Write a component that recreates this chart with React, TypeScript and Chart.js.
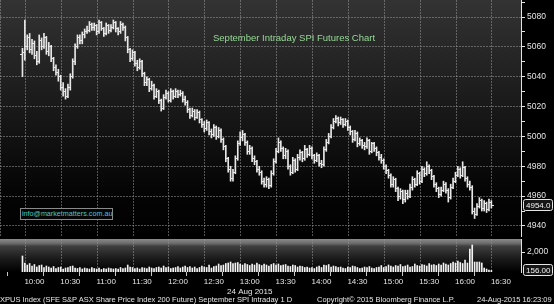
import React, { useEffect, useRef } from 'react';
import { Chart, registerables } from 'chart.js';

Chart.register(...registerables);

// ---- Data (2-minute bars, SPI Sept futures, 24 Aug 2015) ----
const FIRST_BAR_MINUTE = 590; // 09:50
const BAR_MINUTES = 2;

const opens = [
  5055, 5056, 5060, 5066, 5058, 5062, 5054, 5050, 5064, 5060,
  5066, 5057, 5060, 5052, 5046, 5043, 5040, 5033, 5030, 5027,
  5033, 5040, 5050, 5060, 5066, 5064, 5068, 5070, 5071, 5075,
  5073, 5074, 5070, 5076, 5072, 5069, 5074, 5071, 5073, 5076,
  5072, 5070, 5075, 5073, 5066, 5058, 5052, 5056, 5049, 5046,
  5050, 5042, 5036, 5038, 5032, 5034, 5027, 5030, 5024, 5019,
  5026, 5029, 5024, 5030, 5027, 5030, 5028, 5029, 5025, 5023,
  5018, 5014, 5017, 5013, 5016, 5011, 5008, 5005, 5009, 5003,
  5001, 5006, 5000, 5004, 4998, 4993, 4985, 4978, 4972, 4976,
  4985, 4995, 4999, 5001, 4996, 4990, 4992, 4985, 4983, 4978,
  4976, 4970, 4968, 4971, 4967, 4975, 4983, 4990, 4996, 4992,
  4987, 4990, 4980, 4976, 4984, 4978, 4986, 4989, 4985, 4991,
  4988, 4992, 4987, 4984, 4987, 4982, 4981, 4991, 4996, 5000,
  5006, 5010, 5012, 5009, 5011, 5008, 5010, 5006, 5003, 4998,
  5002, 4995, 4997, 4994, 4993, 4997, 4990, 4995, 4992, 4989,
  4986, 4984, 4980, 4977, 4974, 4968, 4971, 4965, 4960, 4963,
  4958, 4962, 4960, 4966, 4971, 4968, 4975, 4970, 4978, 4975,
  4980, 4977, 4973, 4968, 4965, 4961, 4964, 4968, 4964, 4959,
  4966, 4970, 4974, 4978, 4974, 4979, 4972, 4968, 4966, 4950,
  4948, 4953, 4957, 4952, 4955, 4951, 4956,
];

const highs = [
  5059, 5078, 5068, 5069, 5065, 5064, 5057, 5068, 5066, 5069,
  5067, 5063, 5061, 5053, 5048, 5045, 5041, 5036, 5032, 5035,
  5042, 5052, 5062, 5068, 5068, 5070, 5072, 5074, 5077, 5076,
  5076, 5075, 5078, 5077, 5073, 5076, 5075, 5075, 5078, 5077,
  5073, 5077, 5076, 5074, 5067, 5059, 5058, 5057, 5051, 5052,
  5051, 5043, 5040, 5039, 5037, 5035, 5032, 5031, 5025, 5028,
  5031, 5030, 5032, 5031, 5032, 5031, 5031, 5030, 5027, 5024,
  5019, 5019, 5018, 5018, 5017, 5012, 5010, 5011, 5010, 5005,
  5008, 5007, 5006, 5005, 4999, 4994, 4986, 4980, 4978, 4987,
  4997, 5003, 5004, 5002, 4997, 4994, 4993, 4987, 4984, 4980,
  4977, 4972, 4973, 4972, 4977, 4985, 4992, 4999, 4997, 4993,
  4992, 4991, 4981, 4986, 4985, 4988, 4991, 4990, 4994, 4992,
  4994, 4993, 4988, 4989, 4988, 4984, 4993, 4998, 5002, 5008,
  5012, 5014, 5013, 5013, 5012, 5012, 5011, 5007, 5004, 5004,
  5003, 4999, 4998, 4996, 4999, 4998, 4996, 4996, 4993, 4990,
  4988, 4985, 4981, 4978, 4975, 4973, 4972, 4966, 4965, 4964,
  4964, 4964, 4968, 4973, 4972, 4977, 4976, 4980, 4979, 4983,
  4981, 4978, 4974, 4969, 4966, 4966, 4970, 4969, 4965, 4968,
  4972, 4976, 4980, 4979, 4983, 4980, 4973, 4970, 4967, 4952,
  4955, 4959, 4958, 4957, 4956, 4958, 4957,
];

const lows = [
  5040, 5051, 5058, 5056, 5055, 5052, 5048, 5049, 5058, 5059,
  5055, 5054, 5050, 5044, 5041, 5037, 5031, 5027, 5025, 5026,
  5031, 5039, 5048, 5059, 5062, 5062, 5066, 5069, 5070, 5071,
  5071, 5068, 5069, 5071, 5067, 5068, 5069, 5070, 5072, 5070,
  5068, 5069, 5071, 5064, 5056, 5050, 5051, 5047, 5044, 5045,
  5040, 5034, 5034, 5030, 5031, 5025, 5026, 5022, 5017, 5018,
  5025, 5023, 5023, 5025, 5026, 5026, 5027, 5023, 5021, 5016,
  5012, 5013, 5011, 5012, 5009, 5006, 5003, 5004, 5001, 4999,
  5000, 4998, 4999, 4996, 4991, 4983, 4976, 4970, 4970, 4975,
  4984, 4994, 4997, 4994, 4988, 4988, 4983, 4981, 4976, 4974,
  4968, 4966, 4966, 4965, 4966, 4974, 4982, 4989, 4990, 4985,
  4985, 4978, 4974, 4975, 4976, 4977, 4984, 4983, 4984, 4986,
  4987, 4985, 4982, 4983, 4980, 4979, 4980, 4990, 4995, 4999,
  5005, 5009, 5007, 5008, 5006, 5007, 5004, 5001, 4996, 4997,
  4993, 4994, 4992, 4991, 4992, 4988, 4989, 4990, 4987, 4984,
  4982, 4978, 4975, 4972, 4966, 4966, 4963, 4957, 4958, 4955,
  4956, 4958, 4959, 4964, 4966, 4967, 4968, 4969, 4973, 4974,
  4975, 4971, 4966, 4963, 4959, 4960, 4963, 4962, 4956, 4958,
  4965, 4969, 4973, 4972, 4973, 4970, 4966, 4964, 4948, 4945,
  4947, 4952, 4950, 4950, 4949, 4950, 4952,
];

const closes = [
  5056, 5060, 5066, 5058, 5062, 5054, 5050, 5064, 5060, 5066,
  5057, 5060, 5052, 5046, 5043, 5040, 5033, 5030, 5027, 5033,
  5040, 5050, 5060, 5066, 5064, 5068, 5070, 5071, 5075, 5073,
  5074, 5070, 5076, 5072, 5069, 5074, 5071, 5073, 5076, 5072,
  5070, 5075, 5073, 5066, 5058, 5052, 5056, 5049, 5046, 5050,
  5042, 5036, 5038, 5032, 5034, 5027, 5030, 5024, 5019, 5026,
  5029, 5024, 5030, 5027, 5030, 5028, 5029, 5025, 5023, 5018,
  5014, 5017, 5013, 5016, 5011, 5008, 5005, 5009, 5003, 5001,
  5006, 5000, 5004, 4998, 4993, 4985, 4978, 4972, 4976, 4985,
  4995, 4999, 5001, 4996, 4990, 4992, 4985, 4983, 4978, 4976,
  4970, 4968, 4971, 4967, 4975, 4983, 4990, 4996, 4992, 4987,
  4990, 4980, 4976, 4984, 4978, 4986, 4989, 4985, 4991, 4988,
  4992, 4987, 4984, 4987, 4982, 4981, 4991, 4996, 5000, 5006,
  5010, 5012, 5009, 5011, 5008, 5010, 5006, 5003, 4998, 5002,
  4995, 4997, 4994, 4993, 4997, 4990, 4995, 4992, 4989, 4986,
  4984, 4980, 4977, 4974, 4968, 4971, 4965, 4960, 4963, 4958,
  4962, 4960, 4966, 4971, 4968, 4975, 4970, 4978, 4975, 4980,
  4977, 4973, 4968, 4965, 4961, 4964, 4968, 4964, 4959, 4966,
  4970, 4974, 4978, 4974, 4979, 4972, 4968, 4966, 4950, 4948,
  4953, 4957, 4952, 4955, 4951, 4956, 4954,
];

const volumes = [
  1600, 900, 700, 850, 600, 750, 500, 650, 700, 450,
  600, 500, 400, 550, 350, 450, 500, 300, 400, 450,
  550, 600, 400, 350, 450, 300, 400, 350, 300, 450,
  350, 300, 400, 250, 350, 300, 400, 350, 300, 350,
  300, 450, 350, 400, 700, 500, 450, 350, 400, 300,
  450, 400, 350, 500, 400, 350, 450, 500, 400, 600,
  450, 500, 350, 400, 450, 550, 400, 500, 600, 450,
  550, 400, 500, 350, 450, 600, 500, 450, 700, 400,
  550, 600, 800, 650, 700, 850, 900, 1000, 850, 900,
  950, 800, 700, 850, 750, 650, 800, 700, 900, 750,
  650, 800, 700, 600, 750, 850, 700, 800, 650, 700,
  750, 600, 550, 700, 650, 500, 600, 550, 450, 500,
  400, 450, 350, 500, 600, 450, 700, 650, 750, 500,
  600, 550, 450, 500, 400, 350, 500, 450, 600, 550,
  450, 350, 400, 500, 450, 550, 400, 350, 450, 500,
  650, 450, 550, 700, 600, 500, 650, 600, 750, 550,
  600, 700, 500, 550, 800, 650, 600, 750, 700, 600,
  850, 700, 750, 650, 800, 700, 900, 800, 700, 850,
  1000, 900, 1100, 950, 850, 1200, 900, 2300, 2700, 1000,
  1000, 1000, 900, 400, 300, 200, 156,
];

const priceTicks = [4940, 4950, 4960, 4970, 4980, 4990, 5000, 5010, 5020, 5030, 5040, 5050, 5060, 5070, 5080, 5090];
const volumeTicks = [2000];
const timeTicks = [585, 600, 615, 630, 645, 660, 675, 690, 705, 720, 735, 750, 765, 780, 795, 810, 825, 840, 855, 870, 885, 900, 915, 930, 945, 960, 975, 990];
const DATE_TICK = 780;
const DATE_LABEL = '24 Aug 2015';

const TITLE = 'September Intraday SPI Futures Chart';
const EMAIL = 'info@marketmatters.com.au';
const FOOT_1 = 'XPUS Index (SFE S&P ASX Share Price Index 200 Future) September SPI Intraday 1 D';
const FOOT_2 = 'Copyright\u00A9 2015 Bloomberg Finance L.P.';
const FOOT_3 = '24-Aug-2015 16:23:09';

// ---- Styling ----
const FONT = "'Liberation Sans', Arial, sans-serif";
const GRID = 'rgba(150,150,150,0.55)';
const AXIS = '#e4e4e4';
const BAR = '#e8e8e8';
const X_MIN = 579;
const X_MAX = 999;

function fmtTime(m: number) {
  const h = Math.floor(m / 60);
  const mm = m % 60;
  return `${h}:${mm < 10 ? '0' : ''}${mm}`;
}

function makeTick(side: 'left' | 'right') {
  const c = document.createElement('canvas');
  c.width = 5;
  c.height = 1;
  const g = c.getContext('2d')!;
  g.fillStyle = BAR;
  g.fillRect(side === 'left' ? 0 : 3, 0, 2, 1);
  return c;
}

function valueBox(chart: any, scaleId: string, value: number, text: string) {
  const { ctx, chartArea } = chart;
  const y = Math.round(chart.scales[scaleId].getPixelForValue(value));
  const x = chartArea.right + 2;
  ctx.save();
  ctx.fillStyle = '#161616';
  ctx.strokeStyle = '#e6e6e6';
  ctx.lineWidth = 1;
  ctx.beginPath();
  (ctx as any).roundRect(x + 0.5, y - 5.5, 29, 11, 2);
  ctx.fill();
  ctx.stroke();
  ctx.fillStyle = '#f2f2f2';
  ctx.font = `8px ${FONT}`;
  ctx.textBaseline = 'middle';
  ctx.fillText(text, x + 3, y + 0.5);
  ctx.restore();
}

export default function App() {
  const mainRef = useRef<HTMLCanvasElement>(null);
  const volRef = useRef<HTMLCanvasElement>(null);

  useEffect(() => {
    document.body.style.margin = '0';
    document.body.style.background = '#000';
    Chart.defaults.font.family = FONT;

    const times = closes.map((_, i) => FIRST_BAR_MINUTE + i * BAR_MINUTES);
    const openTick = makeTick('left');
    const closeTick = makeTick('right');
    const lastClose = closes[closes.length - 1];
    const lastVol = volumes[volumes.length - 1];

    const mainBg = {
      id: 'mainBg',
      beforeDraw(chart: any) {
        const { ctx, chartArea: a, width, height } = chart;
        ctx.save();
        ctx.fillStyle = '#000';
        ctx.fillRect(0, 0, width, height);
        const g = ctx.createLinearGradient(0, a.top, 0, a.bottom);
        g.addColorStop(0, '#333333');
        g.addColorStop(0.4, '#1c1c1c');
        g.addColorStop(0.8, '#050505');
        g.addColorStop(1, '#000000');
        ctx.fillStyle = g;
        ctx.fillRect(a.left, a.top, a.right - a.left, a.bottom - a.top);
        ctx.strokeStyle = GRID;
        ctx.setLineDash([2, 1]);
        ctx.beginPath();
        ctx.moveTo(a.left + 0.5, a.top);
        ctx.lineTo(a.left + 0.5, a.bottom);
        ctx.stroke();
        ctx.restore();
      },
      afterDraw(chart: any) {
        valueBox(chart, 'y', lastClose, lastClose.toFixed(1));
      },
    };

    const volBg = {
      id: 'volBg',
      beforeDraw(chart: any) {
        const { ctx, chartArea: a, width, height } = chart;
        ctx.save();
        ctx.fillStyle = '#000';
        ctx.fillRect(0, 0, width, height);
        const g = ctx.createLinearGradient(0, a.top, 0, a.bottom);
        g.addColorStop(0, '#8a8a8a');
        g.addColorStop(0.13, '#6c6c6c');
        g.addColorStop(0.22, '#3e3e3e');
        g.addColorStop(0.6, '#1a1a1a');
        g.addColorStop(1, '#000000');
        ctx.fillStyle = g;
        ctx.fillRect(a.left, a.top, a.right - a.left, a.bottom - a.top);
        ctx.restore();
      },
      afterDraw(chart: any) {
        valueBox(chart, 'y', lastVol, lastVol.toFixed(2));
      },
    };

    const xGridColor = (c: any) => (c.tick && c.tick.value % 30 === 0 ? GRID : 'transparent');

    const mainChart = new Chart(mainRef.current!, {
      type: 'bar',
      data: {
        datasets: [
          {
            type: 'bar',
            data: times.map((t, i) => ({ x: t, y: [lows[i], highs[i]] })) as any,
            backgroundColor: BAR,
            borderWidth: 0,
            barThickness: 1,
            grouped: false,
          } as any,
          {
            type: 'line',
            data: times.map((t, i) => ({ x: t, y: opens[i] })),
            showLine: false,
            pointStyle: openTick as any,
            pointRadius: 1,
            pointHoverRadius: 0,
          } as any,
          {
            type: 'line',
            data: times.map((t, i) => ({ x: t, y: closes[i] })),
            showLine: false,
            pointStyle: closeTick as any,
            pointRadius: 1,
            pointHoverRadius: 0,
          } as any,
        ],
      },
      options: {
        responsive: false,
        devicePixelRatio: 1,
        animation: false,
        events: [],
        layout: { padding: 0, autoPadding: false },
        plugins: { legend: { display: false }, tooltip: { enabled: false }, title: { display: false } },
        scales: {
          x: {
            type: 'linear',
            min: X_MIN,
            max: X_MAX,
            afterBuildTicks: (s: any) => {
              s.ticks = timeTicks.map((v) => ({ value: v }));
            },
            afterFit: (s: any) => {
              s.height = 0;
              s.paddingLeft = 0;
              s.paddingRight = 0;
            },
            ticks: { display: false },
            grid: { color: xGridColor, drawTicks: false, lineWidth: 1 },
            border: { display: false, dash: [2, 1] },
          },
          y: {
            type: 'linear',
            position: 'right',
            min: 4932.6,
            max: 5091.4,
            afterBuildTicks: (s: any) => {
              s.ticks = priceTicks.map((v) => ({ value: v }));
            },
            afterFit: (s: any) => {
              s.width = 33;
              s.paddingTop = 0;
              s.paddingBottom = 0;
            },
            ticks: {
              color: AXIS,
              font: { size: 8.5, family: FONT },
              padding: 2,
              autoSkip: false,
              callback: (v: any) => (Number(v) % 20 === 0 ? String(v) : ''),
            },
            grid: {
              color: (c: any) => (c.tick && c.tick.value % 20 === 0 ? GRID : 'transparent'),
              tickColor: AXIS,
              tickLength: 4,
              lineWidth: 1,
            },
            border: { display: true, color: AXIS, width: 1, dash: [2, 1] },
          },
        },
      } as any,
      plugins: [mainBg],
    });

    const volChart = new Chart(volRef.current!, {
      type: 'bar',
      data: {
        datasets: [
          {
            data: times.map((t, i) => ({ x: t, y: volumes[i] })) as any,
            backgroundColor: '#f4f4f4',
            borderWidth: 0,
            barThickness: 1,
          },
        ],
      },
      options: {
        responsive: false,
        devicePixelRatio: 1,
        animation: false,
        events: [],
        layout: { padding: { top: 1, left: 0, right: 0, bottom: 0 }, autoPadding: false },
        plugins: { legend: { display: false }, tooltip: { enabled: false } },
        scales: {
          x: {
            type: 'linear',
            min: X_MIN,
            max: X_MAX,
            afterBuildTicks: (s: any) => {
              s.ticks = timeTicks.map((v) => ({ value: v }));
            },
            afterFit: (s: any) => {
              s.height = 32;
              s.paddingLeft = 0;
              s.paddingRight = 0;
            },
            ticks: {
              color: AXIS,
              font: { size: 8, family: FONT },
              padding: 1,
              maxRotation: 0,
              autoSkip: false,
              callback: (v: any) => {
                const m = Number(v);
                if (m % 30 !== 0) return '';
                return m === DATE_TICK ? [fmtTime(m), DATE_LABEL] : fmtTime(m);
              },
            },
            grid: {
              color: xGridColor,
              tickColor: (c: any) => (c.tick && c.tick.value % 30 !== 0 ? '#c8c8c8' : 'transparent'),
              tickLength: 4,
              lineWidth: 1,
            },
            border: { display: false, dash: [2, 1] },
          },
          y: {
            type: 'linear',
            position: 'right',
            min: 0,
            max: 3300,
            afterBuildTicks: (s: any) => {
              s.ticks = volumeTicks.map((v) => ({ value: v }));
            },
            afterFit: (s: any) => {
              s.width = 33;
              s.paddingTop = 0;
              s.paddingBottom = 0;
            },
            ticks: { color: AXIS, font: { size: 8.5, family: FONT }, padding: 2, autoSkip: false },
            grid: { drawOnChartArea: false, tickColor: AXIS, tickLength: 4 },
            border: { display: true, color: AXIS, width: 1 },
          },
        },
      } as any,
      plugins: [volBg],
    });

    return () => {
      mainChart.destroy();
      volChart.destroy();
    };
  }, []);

  const foot: React.CSSProperties = {
    position: 'absolute',
    top: 294,
    fontFamily: FONT,
    fontSize: 7.5,
    lineHeight: '11px',
    color: '#e6e6e6',
    whiteSpace: 'nowrap',
  };

  return (
    <div style={{ position: 'fixed', left: 0, top: 0, width: 554, height: 304, background: '#000', overflow: 'hidden' }}>
      <canvas ref={mainRef} width={554} height={237} style={{ position: 'absolute', left: 0, top: 0, display: 'block' }} />
      <canvas ref={volRef} width={554} height={66} style={{ position: 'absolute', left: 0, top: 238, display: 'block' }} />
      <div
        style={{
          position: 'absolute',
          left: 213,
          top: 32,
          fontFamily: FONT,
          fontSize: 9.5,
          lineHeight: '12px',
          color: '#96d896',
          whiteSpace: 'nowrap',
        }}
      >
        {TITLE}
      </div>
      <div
        style={{
          position: 'absolute',
          left: 20,
          top: 208,
          width: 90,
          height: 10,
          border: '1px solid #8a8a8a',
          fontFamily: FONT,
          fontSize: 7.2,
          lineHeight: '10px',
          color: '#45c8d0',
          paddingLeft: 1,
          whiteSpace: 'nowrap',
          background: '#050505',
        }}
      >
        {EMAIL}
      </div>
      <div style={{ ...foot, left: 0 }}>{FOOT_1}</div>
      <div style={{ ...foot, left: 317 }}>{FOOT_2}</div>
      <div style={{ ...foot, left: 477 }}>{FOOT_3}</div>
    </div>
  );
}
